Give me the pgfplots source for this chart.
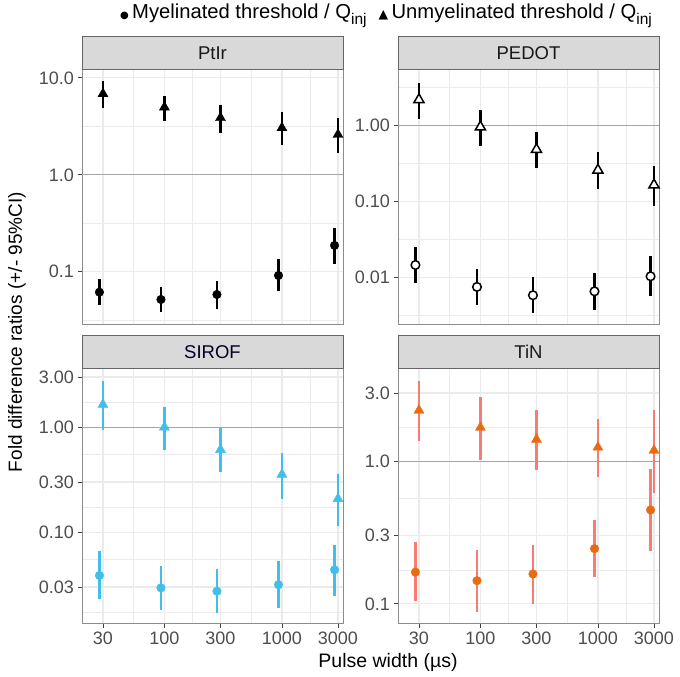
\documentclass[border=0pt]{standalone}
\usepackage{pgfplots}
\usepackage{pgfplotstable}
\pgfplotsset{compat=1.18}
\usepackage{fontspec}
\setmainfont{Liberation Sans}
\newfontfamily\symfont{DejaVu Sans}

\definecolor{gridc}{HTML}{EBEBEB}
\definecolor{tickc}{HTML}{4D4D4D}
\definecolor{stripc}{HTML}{D9D9D9}
\definecolor{siroft}{HTML}{41BEEB}
\definecolor{tinpt}{HTML}{EA6A12}
\definecolor{tinbar}{HTML}{F67C74}

% columns: pulse width, ratio, lower and upper 95% CI
\pgfplotstableread{
x     y      lo     hi
30    6.84   4.9    9.2
100   4.98   3.63   6.57
300   3.87   2.71   5.31
1000  3.05   2.05   4.41
3000  2.60   1.67   3.87
}\ptirU
\pgfplotstableread{
x     y       lo      hi
28    0.0616  0.045   0.0848
93.5  0.0518  0.0384  0.0693
280   0.0583  0.0416  0.0813
935   0.0916  0.063   0.134
2805  0.187   0.121   0.284
}\ptirM
\pgfplotstableread{
x     y      lo      hi
30    2.17   1.22    3.63
100   0.95   0.535   1.57
300   0.48   0.276   0.818
1000  0.257  0.1435  0.447
3000  0.164  0.0867  0.29
}\pedotU
\pgfplotstableread{
x     y        lo       hi
28    0.0145   0.0084   0.0247
93.5  0.00746  0.00437  0.01285
280   0.0058   0.0034   0.0101
935   0.00653  0.00376  0.01138
2805  0.0103   0.0056   0.0188
}\pedotM
\pgfplotstableread{
x     y      lo     hi
30    1.64   0.95   2.74
100   1.0    0.608  1.57
300   0.61   0.373  0.978
1000  0.355  0.208  0.565
3000  0.208  0.114  0.355
}\sirofU
\pgfplotstableread{
x     y       lo      hi
28    0.0387  0.0232  0.066
93.5  0.0295  0.0182  0.0474
280   0.0274  0.0169  0.0448
935   0.0316  0.019   0.0526
2805  0.0438  0.0246  0.0763
}\sirofM
\pgfplotstableread{
x     y      lo     hi
30    2.27   1.39   3.62
100   1.72   1.02   2.81
300   1.42   0.865  2.27
1000  1.25   0.778  1.96
3000  1.19   0.595  2.27
}\tinU
\pgfplotstableread{
x     y       lo      hi
28    0.167   0.104   0.271
93.5  0.1455  0.0874  0.239
280   0.162   0.1005  0.259
935   0.244   0.154   0.388
2805  0.455   0.235   0.879
}\tinM

% shared look of the four facets
\pgfplotsset{
  scale only axis, width=261pt, height=255pt,
  xmin=19.9, xmax=3310,
  xtick={30,100,300,1000,3000},
  minor xtick={54.77,173.2,547.7,1732},
  grid=both,
  major grid style={gridc, line width=1.2pt},
  minor grid style={gridc, line width=0.7pt},
  axis line style={draw=black!45, line width=0.8pt},
  xtick pos=left, ytick pos=left,
  tick align=outside, major tick length=4.5pt, minor tick length=0pt,
  tick style={draw=black!75, line width=0.8pt},
  ticklabel style={font=\fontsize{18}{18}\selectfont, text=tickc},
  table/x=x, table/y=y,
  table/y error plus expr=\thisrow{hi}-\thisrow{y},
  table/y error minus expr=\thisrow{y}-\thisrow{lo},
}
\newcommand{\sub}[1]{\raisebox{-0.28em}{\fontsize{15.5}{15.5}\selectfont #1}}

\begin{document}
\begin{tikzpicture}
\useasboundingbox (0,0) rectangle (680pt,677pt);

% PtIr
\begin{loglogaxis}[at={(82pt,352.5pt)}, anchor=south west,
  xticklabels={}, xtick style={draw=none},
  ymin=0.0286, ymax=12.2, ytick={0.1,1,10}, yticklabels={0.1,1.0,10.0},
  minor ytick={0.0316,0.316,3.16}]
\addplot[black!35, line width=1pt] coordinates {(19.9,1) (3310,1)};
\addplot[only marks, mark=*, mark size=4.3pt, black,
  error bars/.cd, y dir=both, y explicit, error mark=none, error bar style={line width=2.2pt, black}]
  table {\ptirM};
\addplot[only marks, mark=triangle*, mark size=5.8pt, black,
  error bars/.cd, y dir=both, y explicit, error mark=none, error bar style={line width=2.2pt, black}]
  table {\ptirU};
\end{loglogaxis}

% PEDOT
\begin{loglogaxis}[at={(398pt,352.5pt)}, anchor=south west,
  xticklabels={}, xtick style={draw=none},
  ymin=0.00239, ymax=5.42, ytick={0.01,0.1,1}, yticklabels={0.01,0.10,1.00},
  minor ytick={0.00316,0.0316,0.316,3.16}]
\addplot[black!35, line width=1pt] coordinates {(19.9,1) (3310,1)};
\addplot[only marks, mark=*, mark size=4.3pt, black, mark options={fill=white, line width=1.5pt},
  error bars/.cd, y dir=both, y explicit, error mark=none, error bar style={line width=2.2pt, black}]
  table {\pedotM};
\addplot[only marks, mark=triangle*, mark size=5.8pt, black, mark options={fill=white, line width=1.5pt},
  error bars/.cd, y dir=both, y explicit, error mark=none, error bar style={line width=2.2pt, black}]
  table {\pedotU};
\end{loglogaxis}

% SIROF
\begin{loglogaxis}[at={(82pt,53.5pt)}, anchor=south west,
  xticklabels={30,100,300,1000,3000},
  ymin=0.0135, ymax=3.62, ytick={0.03,0.1,0.3,1,3}, yticklabels={0.03,0.10,0.30,1.00,3.00},
  minor ytick={0.01732,0.05477,0.1732,0.5477,1.732}]
\addplot[black!35, line width=1pt] coordinates {(19.9,1) (3310,1)};
\addplot[only marks, mark=*, mark size=4.3pt, siroft,
  error bars/.cd, y dir=both, y explicit, error mark=none, error bar style={line width=2.2pt, siroft}]
  table {\sirofM};
\addplot[only marks, mark=triangle*, mark size=5.8pt, siroft,
  error bars/.cd, y dir=both, y explicit, error mark=none, error bar style={line width=2.2pt, siroft}]
  table {\sirofU};
\end{loglogaxis}

% TiN
\begin{loglogaxis}[at={(398pt,53.5pt)}, anchor=south west,
  xticklabels={30,100,300,1000,3000},
  ymin=0.0729, ymax=4.46, ytick={0.1,0.3,1,3}, yticklabels={0.1,0.3,1.0,3.0},
  minor ytick={0.1732,0.5477,1.732}]
\addplot[black!35, line width=1pt] coordinates {(19.9,1) (3310,1)};
\addplot[only marks, mark=*, mark size=4.3pt, tinpt,
  error bars/.cd, y dir=both, y explicit, error mark=none, error bar style={line width=2.2pt, tinbar}]
  table {\tinM};
\addplot[only marks, mark=triangle*, mark size=5.8pt, tinpt,
  error bars/.cd, y dir=both, y explicit, error mark=none, error bar style={line width=2.2pt, tinbar}]
  table {\tinU};
\end{loglogaxis}

% facet strips
\begin{scope}[every node/.style={font=\fontsize{18.5}{18.5}\selectfont, text=black!90}]
\draw[fill=stripc, draw=black!60, line width=0.8pt] (82pt,607.5pt) rectangle (343pt,640.5pt);
\node at (212.5pt,624pt) {PtIr};
\draw[fill=stripc, draw=black!60, line width=0.8pt] (398pt,607.5pt) rectangle (659pt,640.5pt);
\node at (528.5pt,624pt) {PEDOT};
\draw[fill=stripc, draw=black!60, line width=0.8pt] (82pt,308.5pt) rectangle (343pt,341.5pt);
\node[text=black!85!blue] at (212.5pt,325pt) {SIROF};
\draw[fill=stripc, draw=black!60, line width=0.8pt] (398pt,308.5pt) rectangle (659pt,341.5pt);
\node at (528.5pt,325pt) {TiN};
\end{scope}

% legend and axis titles
\node[font=\fontsize{20.2}{20.2}\selectfont, inner sep=0pt] at (386pt,661pt)
  {{\symfont\fontsize{10}{10}\selectfont ●}\,Myelinated threshold / Q\sub{inj}\hspace{12pt}{\symfont\fontsize{12.5}{12.5}\selectfont ▲}\,Unmyelinated threshold / Q\sub{inj}};
\node[rotate=90, font=\fontsize{19}{19}\selectfont] at (17pt,345pt) {Fold difference ratios (+/- 95\%CI)};
\node[font=\fontsize{19.5}{19.5}\selectfont] at (388pt,15pt) {Pulse width (µs)};
\end{tikzpicture}
\end{document}
